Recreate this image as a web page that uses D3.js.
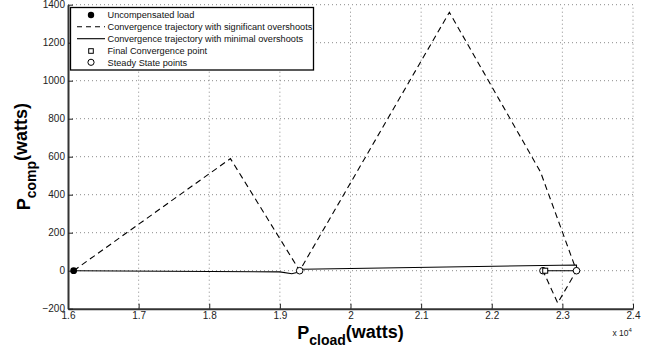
<!DOCTYPE html>
<html>
<head>
<meta charset="utf-8">
<script src="https://cdn.jsdelivr.net/npm/d3@7"></script>
<style>
  html, body { margin: 0; padding: 0; background: #fff; }
  svg { display: block; }
  text { font-family: "Liberation Sans", Arial, Helvetica, sans-serif; }
</style>
</head>
<body>
<svg id="chart" width="662" height="353"></svg>
<script>
// ---- Data (x values in units of 10^4 watts) ----
const xTickValues = [1.6, 1.7, 1.8, 1.9, 2.0, 2.1, 2.2, 2.3, 2.4];
const xTickLabels = ["1.6", "1.7", "1.8", "1.9", "2", "2.1", "2.2", "2.3", "2.4"];
const yTickValues = [-200, 0, 200, 400, 600, 800, 1000, 1200, 1400];
const yTickLabels = ["\u2212200", "0", "200", "400", "600", "800", "1000", "1200", "1400"];

const overshootX = [1.608, 1.83, 1.928, 2.14, 2.269, 2.32, 2.2934, 2.2725];
const overshootY = [0, 590, 0, 1360, 520, 0, -170, 0];

const minimalX = [1.608, 1.90, 1.917, 1.924, 1.928, 1.932, 2.32, 2.32, 2.2757];
const minimalY = [0, -6, -16, -10, 0, 8, 30, 0, 0];

const uncompX = [1.608];
const uncompY = [0];
const finalX = [2.2757];
const finalY = [0];
const steadyX = [1.928, 2.32, 2.2725];
const steadyY = [0, 0, 0];

const legendLabels = [
  "Uncompensated load",
  "Convergence trajectory with significant overshoots",
  "Convergence trajectory with minimal overshoots",
  "Final Convergence point",
  "Steady State points"
];

// ---- Layout ----
const svg = d3.select("#chart");
const pL = 68, pR = 633, pT = 4.7, pB = 308.7;

const x = d3.scaleLinear().domain([1.6, 2.4]).range([pL, pR]);
const y = d3.scaleLinear().domain([-200, 1400]).range([pB, pT]);

// Grid
const grid = svg.append("g");
grid.selectAll("line.vg").data(xTickValues.slice(1)).join("line")
  .attr("x1", d => x(d)).attr("x2", d => x(d))
  .attr("y1", pB).attr("y2", pT)
  .attr("stroke", "#8a8a8a").attr("stroke-width", 1).attr("stroke-dasharray", "1,3");
grid.selectAll("line.hg").data(yTickValues.slice(1)).join("line")
  .attr("y1", d => y(d)).attr("y2", d => y(d))
  .attr("x1", pL).attr("x2", pR)
  .attr("stroke", "#8a8a8a").attr("stroke-width", 1).attr("stroke-dasharray", "1,3");

// Axes
const xAxis = d3.axisBottom(x).tickValues(xTickValues)
  .tickFormat((d, i) => xTickLabels[i]).tickSizeInner(-5).tickSizeOuter(0).tickPadding(3.5);
const gx = svg.append("g").attr("transform", `translate(0,${pB})`).call(xAxis);
gx.select(".domain").attr("stroke", "#333").attr("stroke-width", 2);
gx.selectAll(".tick line").attr("stroke", "#222");
gx.selectAll(".tick text").attr("font-size", 10).attr("fill", "#222")
  .attr("font-family", '"Liberation Sans", Arial, sans-serif');

const yAxis = d3.axisLeft(y).tickValues(yTickValues)
  .tickFormat((d, i) => yTickLabels[i]).tickSizeInner(-5).tickSizeOuter(0).tickPadding(3);
const gy = svg.append("g").attr("transform", `translate(${pL},0)`).call(yAxis);
gy.select(".domain").attr("stroke", "#333").attr("stroke-width", 2);
gy.selectAll(".tick line").attr("stroke", "#222");
gy.selectAll(".tick text").attr("font-size", 10).attr("fill", "#222")
  .attr("font-family", '"Liberation Sans", Arial, sans-serif');

// Lines
const line = d3.line().x(d => x(d[0])).y(d => y(d[1]));
const overshoot = overshootX.map((v, i) => [v, overshootY[i]]);
const minimal = minimalX.map((v, i) => [v, minimalY[i]]);

svg.append("path").datum(overshoot).attr("d", line)
  .attr("fill", "none").attr("stroke", "#000").attr("stroke-width", 1.1)
  .attr("stroke-dasharray", "6,4");
svg.append("path").datum(minimal).attr("d", line)
  .attr("fill", "none").attr("stroke", "#000").attr("stroke-width", 1.1);

// Markers
svg.selectAll("circle.unc").data(uncompX).join("circle")
  .attr("cx", d => x(d)).attr("cy", (d, i) => y(uncompY[i])).attr("r", 3.4)
  .attr("fill", "#000");
svg.selectAll("circle.ss").data(steadyX).join("circle")
  .attr("cx", d => x(d)).attr("cy", (d, i) => y(steadyY[i])).attr("r", 3.3)
  .attr("fill", "#fff").attr("stroke", "#000").attr("stroke-width", 1);
svg.selectAll("rect.fin").data(finalX).join("rect")
  .attr("x", d => x(d) - 2.5).attr("y", (d, i) => y(finalY[i]) - 2.5)
  .attr("width", 5).attr("height", 5)
  .attr("fill", "#fff").attr("stroke", "#000").attr("stroke-width", 1);

// Legend
const lg = svg.append("g");
lg.append("rect").attr("x", 70.5).attr("y", 7.5).attr("width", 243).attr("height", 62.5)
  .attr("fill", "#fff").attr("stroke", "#000").attr("stroke-width", 1.3);
const rowY = [15, 26.7, 38.7, 51, 62.3];
const sx0 = 77, sx1 = 105, sxc = 91;
lg.selectAll("text").data(legendLabels).join("text")
  .attr("x", 107.5).attr("y", (d, i) => rowY[i] + 3.2)
  .attr("font-size", 9.2).attr("fill", "#111").text(d => d);
lg.append("circle").attr("cx", sxc).attr("cy", rowY[0]).attr("r", 3.2).attr("fill", "#000");
lg.append("line").attr("x1", sx0).attr("x2", sx1).attr("y1", rowY[1]).attr("y2", rowY[1])
  .attr("stroke", "#000").attr("stroke-width", 1.1).attr("stroke-dasharray", "5,4");
lg.append("line").attr("x1", sx0).attr("x2", sx1).attr("y1", rowY[2]).attr("y2", rowY[2])
  .attr("stroke", "#000").attr("stroke-width", 1.1);
lg.append("rect").attr("x", sxc - 2.3).attr("y", rowY[3] - 2.3).attr("width", 4.6).attr("height", 4.6)
  .attr("fill", "#fff").attr("stroke", "#000").attr("stroke-width", 1);
lg.append("circle").attr("cx", sxc).attr("cy", rowY[4]).attr("r", 3.1)
  .attr("fill", "#fff").attr("stroke", "#000").attr("stroke-width", 1);

// Axis labels
const xl = svg.append("text").attr("x", (pL + pR) / 2).attr("y", 339)
  .attr("text-anchor", "middle").attr("font-weight", "bold").attr("fill", "#000");
xl.append("tspan").attr("font-size", 18).text("P");
xl.append("tspan").attr("font-size", 14).attr("dy", 5.5).text("cload");
xl.append("tspan").attr("font-size", 18).attr("dy", -6.5).text("(watts)");

const yl = svg.append("text")
  .attr("transform", `translate(30,${(pT + pB) / 2}) rotate(-90)`)
  .attr("text-anchor", "middle").attr("font-weight", "bold").attr("fill", "#000");
yl.append("tspan").attr("font-size", 18).text("P");
yl.append("tspan").attr("font-size", 14).attr("dy", 6).text("comp");
yl.append("tspan").attr("font-size", 18).attr("dy", -9.5).text("(watts)");

// Exponent label
const ex = svg.append("text").attr("x", 612.5).attr("y", 336).attr("fill", "#222");
ex.append("tspan").attr("font-size", 8.5).text("x 10");
ex.append("tspan").attr("font-size", 6).attr("dy", -4).text("4");
</script>
</body>
</html>
